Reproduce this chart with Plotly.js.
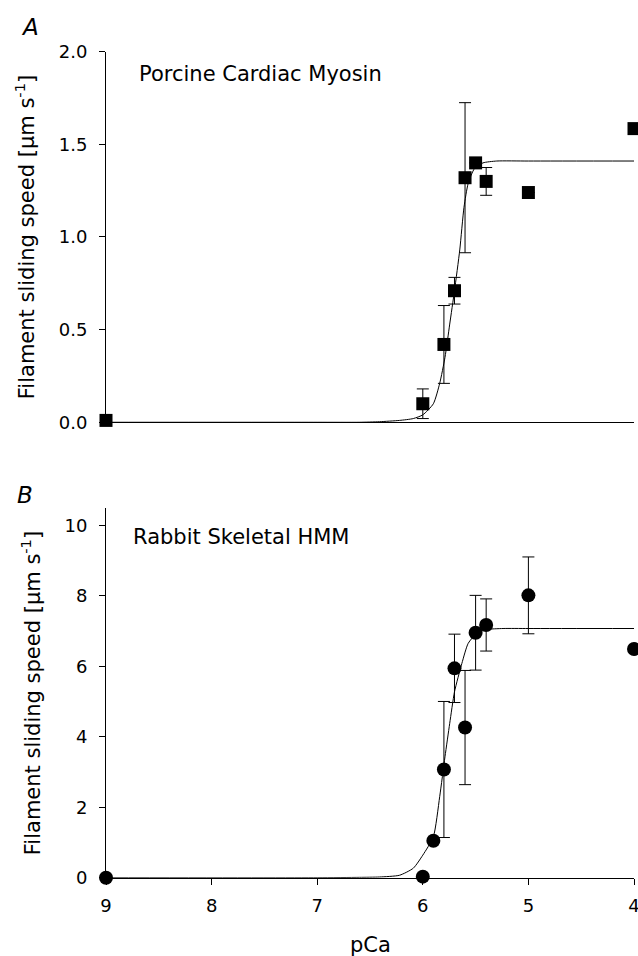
<!DOCTYPE html>
<html>
<head>
<meta charset="utf-8">
<script src="https://cdn.plot.ly/plotly-3.0.1.min.js"></script>
<style>html,body{margin:0;padding:0;background:#fff;}#chart{width:638px;height:956px;}</style>
</head>
<body>
<div id="chart"></div>
<script>
// Panel A: Porcine cardiac myosin
const pCaA = [9, 6.0, 5.8, 5.7, 5.6, 5.5, 5.4, 5.0, 4.0];
const speedA = [0.01, 0.10, 0.42, 0.71, 1.32, 1.40, 1.30, 1.24, 1.585];
const errA = [null, 0.08, 0.21, 0.072, 0.405, null, 0.075, null, null];
const fitPCaA = [9, 7, 6.6, 6.41, 6.22, 6.09, 6.0, 5.9, 5.84, 5.79, 5.745, 5.70, 5.65, 5.61, 5.57, 5.51, 5.43, 5.30, 5.0, 4.0];
const fitA = [0, 0, 0, 0.003, 0.01, 0.02, 0.04, 0.10, 0.21, 0.35, 0.53, 0.71, 0.93, 1.16, 1.29, 1.37, 1.40, 1.41, 1.41, 1.41];

// Panel B: Rabbit skeletal HMM
const pCaB = [9, 6.0, 5.9, 5.8, 5.7, 5.6, 5.5, 5.4, 5.0, 4.0];
const speedB = [0, 0.03, 1.05, 3.07, 5.94, 4.26, 6.95, 7.17, 8.01, 6.49];
const errB = [null, null, null, 1.93, 0.97, 1.62, 1.06, 0.74, 1.09, null];
const fitPCaB = [9, 7, 6.6, 6.41, 6.22, 6.09, 6.0, 5.9, 5.84, 5.79, 5.745, 5.70, 5.63, 5.57, 5.49, 5.40, 5.24, 5.0, 4.0];
const fitB = [0, 0, 0.01, 0.02, 0.07, 0.27, 0.64, 1.16, 2.30, 3.43, 4.38, 5.27, 6.08, 6.65, 6.93, 7.04, 7.07, 7.07, 7.07];

const xTicks = [9, 8, 7, 6, 5, 4];
const yTicksA = [0, 0.5, 1.0, 1.5, 2.0];
const yTicksB = [0, 2, 4, 6, 8, 10];

const FONT = 'DejaVu Sans';
const yTitle = 'Filament sliding speed [μm s<sup>-1</sup>]';
const xTitle = 'pCa';

const traces = [
  {x: fitPCaA, y: fitA, xaxis: 'x', yaxis: 'y', mode: 'lines',
   line: {color: '#000', width: 1, shape: 'spline', smoothing: 0.6}, hoverinfo: 'skip'},
  {x: pCaA, y: speedA, xaxis: 'x', yaxis: 'y', mode: 'markers', cliponaxis: false,
   marker: {symbol: 'square', size: 13, color: '#000'},
   error_y: {type: 'data', array: errA, visible: true, color: '#000', thickness: 1, width: 6}},
  {x: fitPCaB, y: fitB, xaxis: 'x2', yaxis: 'y2', mode: 'lines',
   line: {color: '#000', width: 1, shape: 'spline', smoothing: 0.6}, hoverinfo: 'skip'},
  {x: pCaB, y: speedB, xaxis: 'x2', yaxis: 'y2', mode: 'markers', cliponaxis: false,
   marker: {symbol: 'circle', size: 14, color: '#000'},
   error_y: {type: 'data', array: errB, visible: true, color: '#000', thickness: 1, width: 6}}
];

const axCommon = {showgrid: false, zeroline: false, showline: true, linecolor: '#000', linewidth: 1,
  tickfont: {family: FONT, size: 18, color: '#000'}};

const layout = {
  width: 638, height: 956,
  margin: {l: 106, r: 4, t: 0, b: 0},
  paper_bgcolor: '#fff', plot_bgcolor: '#fff',
  showlegend: false,
  font: {family: FONT, color: '#000'},
  xaxis: Object.assign({}, axCommon, {domain: [0, 1], range: [9, 4], anchor: 'y',
    showticklabels: false, ticks: ''}),
  yaxis: Object.assign({}, axCommon, {domain: [0.5583, 0.9459], range: [0, 2.0], anchor: 'x',
    tickvals: yTicksA, tickformat: '.1f', ticks: 'outside', ticklen: 6, tickcolor: '#000',
    ticklabelstandoff: 8, automargin: 'left',
    title: {text: yTitle, standoff: 18, font: {family: FONT, size: 21, color: '#000'}}}),
  xaxis2: Object.assign({}, axCommon, {domain: [0, 1], range: [9, 4], anchor: 'y2',
    tickvals: xTicks, ticks: 'outside', ticklen: 6, tickcolor: '#000', ticklabelstandoff: 6,
    ticklabeloverflow: 'allow', automargin: false}),
  yaxis2: Object.assign({}, axCommon, {domain: [0.0819, 0.4683], range: [0, 10.48], anchor: 'x2',
    tickvals: yTicksB, ticks: 'outside', ticklen: 6, tickcolor: '#000', ticklabelstandoff: 8,
    automargin: 'left',
    title: {text: yTitle, standoff: 18, font: {family: FONT, size: 21, color: '#000'}}}),
  annotations: [
    {text: xTitle, xref: 'paper', yref: 'paper', x: 0.5, y: 1 - 945 / 956,
     xanchor: 'center', yanchor: 'middle', showarrow: false, font: {family: FONT, size: 21, color: '#000'}},
    {text: 'Porcine Cardiac Myosin', xref: 'x', yref: 'y', x: 8.706, y: 1.88,
     xanchor: 'left', yanchor: 'middle', showarrow: false, font: {family: FONT, size: 21, color: '#000'}},
    {text: 'Rabbit Skeletal HMM', xref: 'x2', yref: 'y2', x: 8.763, y: 9.67,
     xanchor: 'left', yanchor: 'middle', showarrow: false, font: {family: FONT, size: 21, color: '#000'}},
    {text: '<i>A</i>', xref: 'paper', yref: 'paper', x: -0.144, y: 0.9718,
     xanchor: 'center', yanchor: 'middle', showarrow: false, font: {family: FONT, size: 23, color: '#000'}},
    {text: '<i>B</i>', xref: 'paper', yref: 'paper', x: -0.153, y: 0.4822,
     xanchor: 'center', yanchor: 'middle', showarrow: false, font: {family: FONT, size: 23, color: '#000'}}
  ]
};

Plotly.newPlot('chart', traces, layout, {displayModeBar: false, staticPlot: true});
</script>
</body>
</html>
